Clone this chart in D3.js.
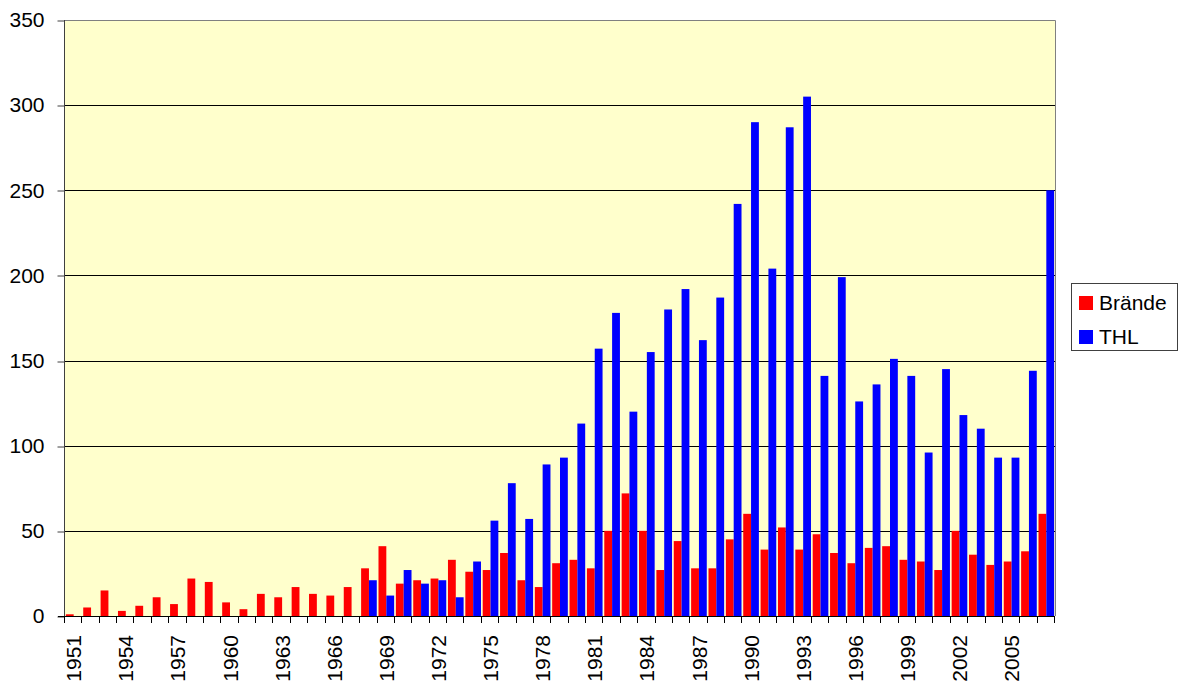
<!DOCTYPE html>
<html>
<head>
<meta charset="utf-8">
<script src="https://cdn.jsdelivr.net/npm/d3@7"></script>
<style>
  html, body { margin: 0; padding: 0; background: #ffffff; }
  svg { display: block; font-family: Arial, "Liberation Sans", sans-serif; }
</style>
</head>
<body>
<svg id="chart" width="1179" height="686"></svg>
<script>
// ---- data ----
const years = d3.range(1951, 2008);
const seriesNames = ["Brände", "THL"];
const seriesColors = ["#ff0000", "#0000ff"];
const braende = [1, 5, 15, 3, 6, 11, 7, 22, 20, 8, 4, 13, 11, 17, 13, 12, 17,
  28, 41, 19, 21, 22, 33, 26, 27, 37, 21, 17, 31, 33,
  28, 50, 72, 50, 27, 44, 28, 28, 45, 60,
  39, 52, 39, 48, 37, 31, 40, 41, 33, 32,
  27, 50, 36, 30, 32, 38, 60];
const thl = [null, null, null, null, null, null, null, null, null, null, null, null, null, null, null, null, null,
  21, 12, 27, 19, 21, 11, 32, 56, 78, 57, 89, 93, 113,
  157, 178, 120, 155, 180, 192, 162, 187, 242, 290,
  204, 287, 305, 141, 199, 126, 136, 151, 141, 96,
  145, 118, 110, 93, 93, 144, 250];
const yTicks = [0, 50, 100, 150, 200, 250, 300, 350];
const labelYears = years.filter((d, i) => i % 3 === 0);

// ---- layout ----
const svg = d3.select("#chart");
const pLeft = 65, pRight = 1055, pTop = 20, pBottom = 616;
const crisp = v => Math.round(v) + 0.5;

const x0 = d3.scaleBand().domain(years).range([pLeft, pRight]).padding(0);
const x1 = d3.scaleBand().domain(seriesNames).range([0, x0.bandwidth()])
  .paddingInner(0).paddingOuter(0.11);
const y = d3.scaleLinear().domain([0, 350]).range([pBottom, pTop]);

// plot background
svg.append("rect").attr("x", pLeft).attr("y", pTop)
  .attr("width", pRight - pLeft).attr("height", pBottom - pTop)
  .attr("fill", "#ffffcc");

// gridlines
svg.append("g").selectAll("line").data(yTicks.filter(v => v > 0 && v < 350)).join("line")
  .attr("x1", pLeft).attr("x2", pRight)
  .attr("y1", d => crisp(y(d))).attr("y2", d => crisp(y(d)))
  .attr("stroke", "#000").attr("stroke-width", 1);

// frame top/right
svg.append("path")
  .attr("d", `M${pLeft},${crisp(y(350))}H${crisp(pRight)}V${pBottom}`)
  .attr("fill", "none").attr("stroke", "#808080").attr("stroke-width", 1);

// bars
const data = years.map((yr, i) => ({ year: yr, values: [braende[i], thl[i]] }));
const groups = svg.append("g").selectAll("g").data(data).join("g")
  .attr("transform", d => `translate(${x0(d.year)},0)`);
groups.selectAll("rect")
  .data(d => d.values.map((v, k) => ({ key: seriesNames[k], value: v, k })).filter(e => e.value != null))
  .join("rect")
  .attr("x", d => x1(d.key))
  .attr("width", x1.bandwidth())
  .attr("y", d => y(d.value))
  .attr("height", d => y(0) - y(d.value))
  .attr("fill", d => seriesColors[d.k]);

// y axis
const yAxis = d3.axisLeft(y).tickValues(yTicks).tickSize(7).tickPadding(13).tickFormat(d3.format("d"));
const gy = svg.append("g").attr("transform", `translate(${crisp(pLeft) - 1},0)`).call(yAxis);
gy.select(".domain").attr("stroke", "#404040").attr("d", `M0,${pTop}V${pBottom}`);
gy.selectAll(".tick line").attr("stroke", "#404040")
  .attr("transform", d => `translate(0,${crisp(y(d)) - y(d)})`);
gy.selectAll(".tick text").attr("font-size", 21).attr("fill", "#000")
  .attr("font-family", "Arial, 'Liberation Sans', sans-serif");

// x axis line
svg.append("line").attr("x1", pLeft - 7).attr("x2", pRight)
  .attr("y1", crisp(pBottom)).attr("y2", crisp(pBottom))
  .attr("stroke", "#000");

// x ticks at category boundaries
const boundaries = years.map(yr => x0(yr)).concat([x0(years[years.length - 1]) + x0.bandwidth()]);
svg.append("g").selectAll("line").data(boundaries).join("line")
  .attr("x1", d => crisp(d) - 1).attr("x2", d => crisp(d) - 1)
  .attr("y1", pBottom).attr("y2", pBottom + 7)
  .attr("stroke", "#000");

// x labels
svg.append("g").selectAll("text").data(labelYears).join("text")
  .attr("transform", d => `translate(${x0(d) + x0.bandwidth() / 2},635) rotate(-90)`)
  .attr("text-anchor", "end")
  .attr("dy", "0.36em")
  .attr("font-size", 21)
  .attr("fill", "#000")
  .text(d => d);

// legend
const lg = svg.append("g");
lg.append("rect").attr("x", 1071.5).attr("y", 283.5).attr("width", 106).attr("height", 67)
  .attr("fill", "#fff").attr("stroke", "#404040");
seriesNames.forEach((name, k) => {
  const yy = 296 + k * 34;
  lg.append("rect").attr("x", 1079).attr("y", yy).attr("width", 14).attr("height", 14)
    .attr("fill", seriesColors[k]);
  lg.append("text").attr("x", 1099).attr("y", yy + 13.5)
    .attr("font-size", 21).attr("fill", "#000").text(name);
});
</script>
</body>
</html>
